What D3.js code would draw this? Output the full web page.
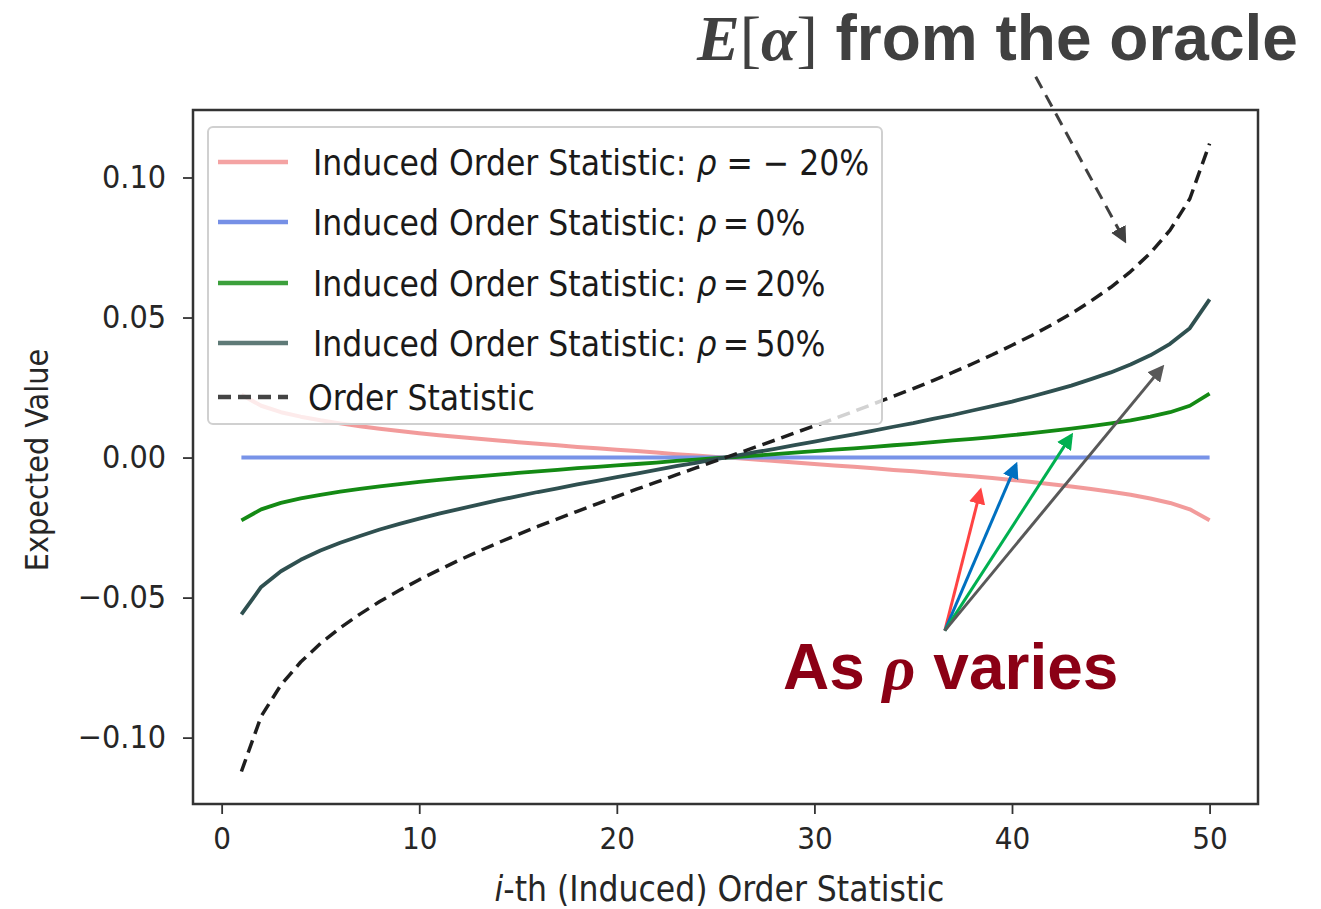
<!DOCTYPE html>
<html>
<head>
<meta charset="utf-8">
<script src="https://cdn.jsdelivr.net/npm/d3@7"></script>
<style>
  body { margin: 0; background: #fff; }
  svg { display: block; }
</style>
</head>
<body>
<svg width="1321" height="909"></svg>
<script>
// x positions: rank of the (induced) order statistic
const ranks = d3.range(1, 51)

// expected values
const orderStat = [-0.1121, -0.0924, -0.0812, -0.0730, -0.0664, -0.0608, -0.0559, -0.0514, -0.0474, -0.0436,
  -0.0401, -0.0367, -0.0335, -0.0304, -0.0275, -0.0246, -0.0219, -0.0192, -0.0165, -0.0139,
  -0.0113, -0.0088, -0.0062, -0.0037, -0.0012, 0.0012, 0.0037, 0.0062, 0.0088, 0.0113,
  0.0139, 0.0165, 0.0192, 0.0219, 0.0246, 0.0275, 0.0304, 0.0335, 0.0367, 0.0401,
  0.0436, 0.0474, 0.0514, 0.0559, 0.0608, 0.0664, 0.0730, 0.0812, 0.0924, 0.1121]

const rho50 = [-0.0560, -0.0462, -0.0406, -0.0365, -0.0332, -0.0304, -0.0280, -0.0257, -0.0237, -0.0218,
  -0.0200, -0.0184, -0.0168, -0.0152, -0.0138, -0.0123, -0.0110, -0.0096, -0.0083, -0.0070,
  -0.0057, -0.0044, -0.0031, -0.0019, -0.0006, 0.0006, 0.0019, 0.0031, 0.0044, 0.0057,
  0.0070, 0.0083, 0.0096, 0.0110, 0.0123, 0.0138, 0.0152, 0.0168, 0.0184, 0.0200,
  0.0218, 0.0237, 0.0257, 0.0280, 0.0304, 0.0332, 0.0365, 0.0406, 0.0462, 0.0565]

const rho20 = [-0.0224, -0.0185, -0.0162, -0.0146, -0.0133, -0.0122, -0.0112, -0.0103, -0.0095, -0.0087,
  -0.0080, -0.0073, -0.0067, -0.0061, -0.0055, -0.0049, -0.0044, -0.0038, -0.0033, -0.0028,
  -0.0023, -0.0018, -0.0012, -0.0007, -0.0002, 0.0002, 0.0007, 0.0012, 0.0018, 0.0023,
  0.0028, 0.0033, 0.0038, 0.0044, 0.0049, 0.0055, 0.0061, 0.0067, 0.0073, 0.0080,
  0.0087, 0.0095, 0.0103, 0.0112, 0.0122, 0.0133, 0.0146, 0.0162, 0.0185, 0.0228]

const rho0 = [0, 0, 0, 0, 0, 0, 0, 0, 0, 0, 0, 0, 0, 0, 0, 0, 0, 0, 0, 0, 0, 0, 0, 0, 0,
  0, 0, 0, 0, 0, 0, 0, 0, 0, 0, 0, 0, 0, 0, 0, 0, 0, 0, 0, 0, 0, 0, 0, 0, 0]

const rhoNeg20 = [0.0224, 0.0185, 0.0162, 0.0146, 0.0133, 0.0122, 0.0112, 0.0103, 0.0095, 0.0087,
  0.0080, 0.0073, 0.0067, 0.0061, 0.0055, 0.0049, 0.0044, 0.0038, 0.0033, 0.0028,
  0.0023, 0.0018, 0.0012, 0.0007, 0.0002, -0.0002, -0.0007, -0.0012, -0.0018, -0.0023,
  -0.0028, -0.0033, -0.0038, -0.0044, -0.0049, -0.0055, -0.0061, -0.0067, -0.0073, -0.0080,
  -0.0087, -0.0095, -0.0103, -0.0112, -0.0122, -0.0133, -0.0146, -0.0162, -0.0185, -0.0224]

const xTicks = [0, 10, 20, 30, 40, 50]
const yTicks = [-0.10, -0.05, 0.00, 0.05, 0.10]

const legendRho = ["\u2212 20%", "0%", "20%", "50%"]

const svg = d3.select("svg")

const margin = { top: 110, left: 193, right: 63, bottom: 105 }
const width = +svg.attr("width")
const height = +svg.attr("height")
const innerWidth = width - margin.left - margin.right
const innerHeight = height - margin.top - margin.bottom

const font = "'DejaVu Sans Condensed', 'DejaVu Sans', sans-serif"

const xScale = d3.scaleLinear()
  .domain([-1.45, 52.45])
  .range([0, innerWidth])

const yScale = d3.scaleLinear()
  .domain([-0.1237, 0.1241])
  .range([innerHeight, 0])

const g = svg.append("g")
  .attr("transform", `translate(${margin.left},${margin.top})`)

// clip lines to the plot area
svg.append("defs").append("clipPath").attr("id", "plotclip")
  .append("rect").attr("width", innerWidth).attr("height", innerHeight)

const series = [
  { name: "neg20", values: rhoNeg20, color: "#f08a8a", width: 4, opacity: 0.85, dash: null, legendColor: "#f4a3a3" },
  { name: "zero", values: rho0, color: "#7893e8", width: 4, opacity: 1, dash: null, legendColor: "#7690e6" },
  { name: "pos20", values: rho20, color: "#148a14", width: 3.8, opacity: 1, dash: null, legendColor: "#3ca03c" },
  { name: "pos50", values: rho50, color: "#2f5050", width: 3.8, opacity: 1, dash: null, legendColor: "#5f7a77" },
  { name: "os", values: orderStat, color: "#1e1e1e", width: 3.5, opacity: 1, dash: "13,7", legendColor: "#444" }
]

const line = d3.line()
  .x((d, i) => xScale(ranks[i]))
  .y(d => yScale(d))

const linesG = g.append("g").attr("clip-path", "url(#plotclip)")
linesG.selectAll("path")
  .data(series)
  .enter().append("path")
    .attr("d", d => line(d.values))
    .attr("fill", "none")
    .attr("stroke", d => d.color)
    .attr("stroke-width", d => d.width)
    .attr("stroke-opacity", d => d.opacity)
    .attr("stroke-dasharray", d => d.dash)
    .attr("stroke-linejoin", "round")

// axes
const xAxis = d3.axisBottom(xScale)
  .tickValues(xTicks)
  .tickSize(10)
  .tickPadding(13)
  .tickFormat(d3.format("d"))

const yAxis = d3.axisLeft(yScale)
  .tickValues(yTicks)
  .tickSize(10)
  .tickPadding(17)
  .tickFormat(d3.format(".2f"))

const xAxisG = g.append("g")
  .attr("transform", `translate(0,${innerHeight})`)
  .call(xAxis)
const yAxisG = g.append("g").call(yAxis)

;[xAxisG, yAxisG].forEach(a => {
  a.select(".domain").remove()
  a.selectAll(".tick line").attr("stroke", "#333").attr("stroke-width", 1.8)
  a.selectAll(".tick text")
    .attr("fill", "#262626")
    .style("font-family", font)
})
xAxisG.selectAll(".tick text").style("font-size", "31px")
yAxisG.selectAll(".tick text").style("font-size", "32px")

// frame
g.append("rect")
  .attr("width", innerWidth)
  .attr("height", innerHeight)
  .attr("fill", "none")
  .attr("stroke", "#333")
  .attr("stroke-width", 2.5)

// axis titles
g.append("text")
  .attr("x", innerWidth / 2 - 6)
  .attr("y", innerHeight + 97)
  .attr("text-anchor", "middle")
  .attr("fill", "#262626")
  .style("font-family", font)
  .style("font-size", "35px")
  .html('<tspan font-style="italic">i</tspan>-th (Induced) Order Statistic')

svg.append("text")
  .attr("transform", `translate(48,${margin.top + 350}) rotate(-90)`)
  .attr("text-anchor", "middle")
  .attr("fill", "#262626")
  .style("font-family", font)
  .style("font-size", "32px")
  .text("Expected Value")

// legend
const legendG = g.append("g").attr("transform", "translate(15,17)")
legendG.append("rect")
  .attr("width", 674)
  .attr("height", 297)
  .attr("rx", 5)
  .attr("fill", "#fff")
  .attr("fill-opacity", 0.8)
  .attr("stroke", "#d0d0d0")
  .attr("stroke-width", 2)

const rowY = [35, 95, 156, 216, 270]
const rows = legendG.selectAll("g.row")
  .data(series)
  .enter().append("g")
    .attr("class", "row")
    .attr("transform", (d, i) => `translate(0,${rowY[i]})`)

rows.append("line")
  .attr("x1", 10).attr("x2", 80)
  .attr("stroke", d => d.legendColor)
  .attr("stroke-width", 4.5)
  .attr("stroke-dasharray", d => d.dash)

rows.append("text")
  .attr("x", (d, i) => i < 4 ? 105 : 100)
  .attr("y", 13)
  .attr("fill", "#1a1a1a")
  .style("font-family", font)
  .style("font-size", "35px")
  .each(function(d, i) {
    const t = d3.select(this)
    if (i < 4) {
      t.append("tspan").text("Induced Order Statistic: ")
      t.append("tspan").attr("font-style", "italic").text("\u03c1")
      t.append("tspan").text(i === 0 ? " = " : "\u2009=\u2009")
      t.append("tspan").text(legendRho[i])
    } else {
      t.text("Order Statistic")
    }
  })

// annotations
const defs = svg.select("defs")
const arrowDefs = [
  { id: "ah-dark", color: "#404040" },
  { id: "ah-red", color: "#ff4343" },
  { id: "ah-blue", color: "#0070c0" },
  { id: "ah-green", color: "#00b050" },
  { id: "ah-gray", color: "#595959" }
]
defs.selectAll("marker")
  .data(arrowDefs)
  .enter().append("marker")
    .attr("id", d => d.id)
    .attr("viewBox", "0 0 10 10")
    .attr("refX", 8).attr("refY", 5)
    .attr("markerWidth", 5.5).attr("markerHeight", 5.5)
    .attr("markerUnits", "strokeWidth")
    .attr("orient", "auto")
  .append("path")
    .attr("d", "M0,0 L10,5 L0,10 Z")
    .attr("fill", d => d.color)

// oracle pointer
g.append("line")
  .attr("x1", xScale(41.2)).attr("y1", yScale(0.136))
  .attr("x2", xScale(45.7)).attr("y2", yScale(0.0775))
  .attr("stroke", "#404040")
  .attr("stroke-width", 3)
  .attr("stroke-dasharray", "13,8")
  .attr("marker-end", "url(#ah-dark)")

const serif = "'Liberation Serif', 'DejaVu Serif', serif"
const sans = "'Liberation Sans', Arial, sans-serif"

const oracle = svg.append("text")
  .attr("x", 697).attr("y", 60)
  .attr("fill", "#404040")
  .style("font-size", "64px")
oracle.append("tspan")
  .style("font-family", serif)
  .attr("font-style", "italic").attr("font-weight", "bold").text("E")
oracle.append("tspan")
  .style("font-family", serif).text("[")
oracle.append("tspan")
  .style("font-family", serif)
  .attr("font-style", "italic").attr("font-weight", "bold").text("\u03b1")
oracle.append("tspan")
  .style("font-family", serif).text("]")
oracle.append("tspan")
  .style("font-family", sans)
  .attr("font-weight", "bold").text(" from the oracle")

// "as rho varies" arrows
const origin = { x: 36.6, y: -0.0618 }
const rhoArrows = [
  { tx: 38.4, ty: -0.0118, color: "#ff4343", marker: "ah-red" },
  { tx: 40.2, ty: -0.0026, color: "#0070c0", marker: "ah-blue" },
  { tx: 43.0, ty: 0.0079, color: "#00b050", marker: "ah-green" },
  { tx: 47.6, ty: 0.0322, color: "#595959", marker: "ah-gray" }
]
g.selectAll("line.rho")
  .data(rhoArrows)
  .enter().append("line")
    .attr("class", "rho")
    .attr("x1", xScale(origin.x)).attr("y1", yScale(origin.y))
    .attr("x2", d => xScale(d.tx)).attr("y2", d => yScale(d.ty))
    .attr("stroke", d => d.color)
    .attr("stroke-width", 3)
    .attr("marker-end", d => `url(#${d.marker})`)

const varies = svg.append("text")
  .attr("x", 783).attr("y", 689)
  .attr("fill", "#8b0015")
  .style("font-size", "64px")
  .attr("font-weight", "bold")
varies.append("tspan")
  .style("font-family", sans).text("As ")
varies.append("tspan")
  .style("font-family", serif)
  .attr("font-style", "italic").text("\u03c1")
varies.append("tspan")
  .style("font-family", sans).text(" varies")
</script>
</body>
</html>
